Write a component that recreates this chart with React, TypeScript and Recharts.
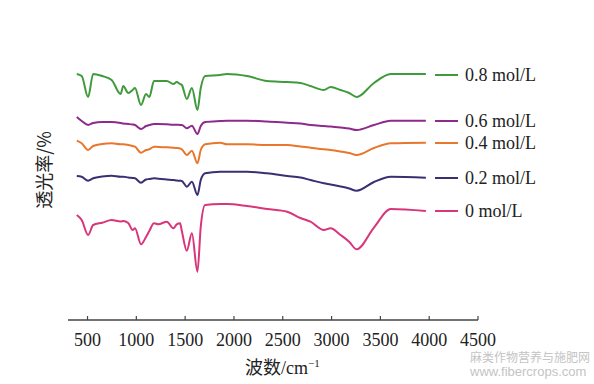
import React from 'react';
import { LineChart, Line, XAxis, YAxis } from 'recharts';

// wavenumber grid (cm-1) shared by all spectra
const wavenumbers = [
  390, 440, 506, 558, 650, 747, 839, 866, 917, 962, 986, 1048, 1099, 1133, 1181, 1225,
  1312, 1380, 1414, 1448, 1466, 1517, 1569, 1626, 1660, 1705, 1859, 1928, 2134, 2339,
  2545, 2681, 2784, 2921, 2990, 3092, 3180, 3257, 3434, 3606, 3966,
];

// transmittance (offset, a.u.)
const t08 = [
  246, 244, 223, 246, 244, 240, 226, 234, 227, 230, 232, 215, 226, 223, 239, 239,
  239, 236, 238, 236, 235, 221, 232, 210, 232, 244, 245, 246, 244, 239,
  238, 237, 234, 230, 233, 230, 227, 223, 237, 246, 246,
];
const t06 = [
  203, 199, 195, 197, 198, 198, 197, 196.5, 196, 195.5, 195, 191, 194, 195, 196, 196,
  195.7, 195.3, 195.3, 195, 195, 191.7, 194.3, 186, 194, 198, 199, 199.3, 199.3, 198.5,
  197.3, 196.5, 195, 194, 193.5, 192.5, 191.5, 190, 195, 199.3, 199.3,
];
const t04 = [
  179.3, 176.7, 170, 174, 176, 176.7, 175.7, 175.7, 175, 174, 173.3, 167.3, 170, 170.7, 173.3, 173,
  172.7, 172.3, 172, 171.5, 170.7, 165, 169.3, 156.7, 170, 175.7, 177.3, 175.7, 175.7, 175,
  175, 173.5, 172.3, 170.7, 170, 168.5, 167, 165, 172, 176.7, 177.3,
];
const t02 = [
  144, 143.3, 139.3, 141.7, 143.5, 144.3, 143.3, 143.3, 142.5, 142, 141.7, 137.3, 140.5, 141, 141.7, 141.3,
  140.5, 140, 139.5, 139.2, 139, 133.3, 138.3, 125, 140, 146.7, 148.3, 148.3, 148.3, 146.7,
  144, 142.5, 140, 136.7, 135.5, 133.5, 131.5, 129.3, 138, 143.3, 142.3,
];
const t00 = [
  105, 100, 85, 95, 97.3, 100, 98.5, 99, 97, 90, 91.7, 75.7, 83, 89, 96.7, 95.7,
  98.3, 91.7, 95.7, 96.7, 89, 69.3, 86.7, 48.3, 93.3, 115, 116, 116, 114, 111,
  108.3, 102, 98.3, 90, 91.7, 85, 78.3, 70.7, 92.4, 111, 109,
];

const xTicks = [500, 1000, 1500, 2000, 2500, 3000, 3500, 4000, 4500];

const series = [
  { key: 'c08', name: '0.8 mol/L', values: t08, color: '#3f9a3c', legendY: 75 },
  { key: 'c06', name: '0.6 mol/L', values: t06, color: '#8e2a8c', legendY: 121 },
  { key: 'c04', name: '0.4 mol/L', values: t04, color: '#e8762b', legendY: 143 },
  { key: 'c02', name: '0.2 mol/L', values: t02, color: '#3a2f72', legendY: 178 },
  { key: 'c00', name: '0 mol/L', values: t00, color: '#d8357a', legendY: 211 },
];

const data = wavenumbers.map((w, i) => {
  const row: Record<string, number> = { w };
  series.forEach((s) => (row[s.key] = s.values[i]));
  return row;
});

const serif = '"Liberation Serif", "Times New Roman", serif';

export default function App() {
  return (
    <div style={{ position: 'absolute', left: 0, top: 0, width: 594, height: 384, background: '#fff' }}>
      <LineChart width={594} height={384} data={data} margin={{ top: 24, right: 116, bottom: 0, left: 68 }}>
        <XAxis
          dataKey="w"
          type="number"
          domain={[300, 4500]}
          ticks={xTicks}
          height={64}
          tickSize={-4}
          tickMargin={17}
          axisLine={{ stroke: '#444', strokeWidth: 1.5 }}
          tickLine={{ stroke: '#444', strokeWidth: 1.2 }}
          tick={{ fill: '#222', fontSize: 18, fontFamily: serif }}
        />
        <YAxis
          type="number"
          domain={[0, 296]}
          width={0}
          tick={false}
          tickLine={false}
          axisLine={{ stroke: '#444', strokeWidth: 1.5 }}
        />
        {series.map((s) => (
          <Line
            key={s.key}
            dataKey={s.key}
            type="monotone"
            stroke={s.color}
            strokeWidth={2}
            dot={false}
            isAnimationActive={false}
          />
        ))}
      </LineChart>

      {series.map((s) => (
        <React.Fragment key={s.key}>
          <div
            style={{
              position: 'absolute',
              left: 435,
              top: s.legendY - 1,
              width: 23,
              height: 2,
              background: s.color,
            }}
          />
          <div
            style={{
              position: 'absolute',
              left: 465,
              top: s.legendY - 11,
              height: 22,
              lineHeight: '22px',
              fontSize: 18,
              fontFamily: serif,
              color: '#222',
              whiteSpace: 'nowrap',
            }}
          >
            {s.name}
          </div>
        </React.Fragment>
      ))}

      <div
        style={{
          position: 'absolute',
          left: 43,
          top: 170,
          transform: 'translate(-50%, -50%) rotate(-90deg)',
          fontSize: 18,
          fontFamily: '"Noto Sans CJK SC", ' + serif,
          color: '#222',
          whiteSpace: 'nowrap',
        }}
      >
        透光率/%
      </div>

      <div
        style={{
          position: 'absolute',
          left: 245,
          top: 351,
          fontSize: 18,
          lineHeight: '24px',
          fontFamily: serif + ', "Noto Sans CJK SC"',
          color: '#222',
          whiteSpace: 'nowrap',
        }}
      >
        <span style={{ fontFamily: '"Noto Sans CJK SC"' }}>波数</span>/cm<sup style={{ fontSize: 11 }}>−1</sup>
      </div>

      <div
        style={{
          position: 'absolute',
          left: 470,
          top: 350,
          height: 13,
          lineHeight: '13px',
          fontSize: 12,
          fontFamily: '"Noto Sans CJK SC", sans-serif',
          color: '#c4c4c4',
          whiteSpace: 'nowrap',
        }}
      >
        麻类作物营养与施肥网
      </div>
      <div
        style={{
          position: 'absolute',
          left: 470,
          top: 365,
          height: 14,
          lineHeight: '14px',
          fontSize: 13,
          fontFamily: '"Liberation Sans", sans-serif',
          color: '#c4c4c4',
          whiteSpace: 'nowrap',
        }}
      >
        www.fibercrops.com
      </div>
    </div>
  );
}
